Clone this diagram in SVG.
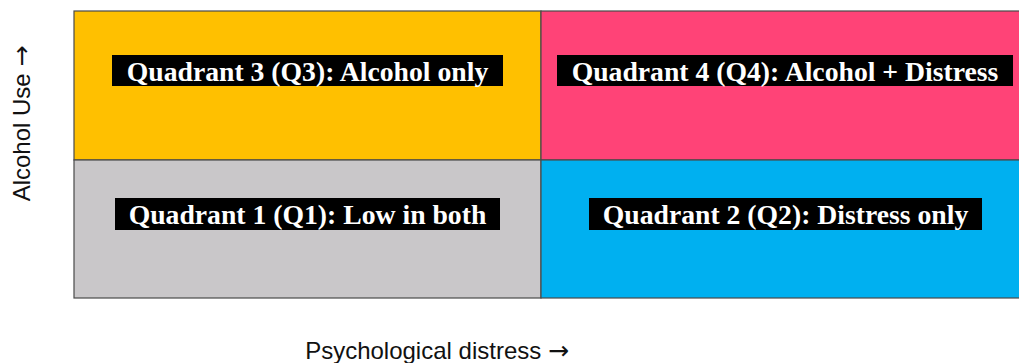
<svg xmlns="http://www.w3.org/2000/svg" width="1019" height="363" viewBox="0 0 1019 363">
<style>
.q{stroke:#4a4a4a;stroke-width:1.2}
.lb{fill:#000}
.lt{font-family:"Liberation Sans","Liberation Serif","Times New Roman",serif;font-family:"Liberation Serif","Times New Roman",serif;font-weight:bold;font-size:27.7px;fill:#fff;text-anchor:middle}
.ax{font-family:"Liberation Sans",Arial,sans-serif;font-size:24px;fill:#111;text-anchor:middle}
.ar{font-family:"DejaVu Sans",sans-serif;font-size:25px}
</style>
<rect width="1019" height="363" fill="#fff"/>
<g id="q3"><rect class="q" x="74" y="11" width="467" height="149" fill="#FFC000"/><rect class="lb" x="112" y="55" width="391" height="31"/><text class="lt" x="307.5" y="80.5">Quadrant 3 (Q3): Alcohol only</text></g>
<g id="q4"><rect class="q" x="541" y="11" width="480" height="149" fill="#FF4377"/><rect class="lb" x="557" y="55" width="456" height="31"/><text class="lt" x="785" y="80.5">Quadrant 4 (Q4): Alcohol + Distress</text></g>
<g id="q1"><rect class="q" x="74" y="160" width="467" height="138" fill="#C9C7C9"/><rect class="lb" x="115" y="198" width="385" height="32"/><text class="lt" x="307.5" y="224">Quadrant 1 (Q1): Low in both</text></g>
<g id="q2"><rect class="q" x="541" y="160" width="480" height="138" fill="#00B0F0"/><rect class="lb" x="589" y="198" width="393" height="32"/><text class="lt" x="785.5" y="224">Quadrant 2 (Q2): Distress only</text></g>
<g id="connectors"></g>
<g id="axes">
<text class="ax" transform="translate(30,123.5) rotate(-90)">Alcohol Use <tspan class="ar">→</tspan></text>
<text class="ax" x="437" y="359">Psychological distress <tspan class="ar">→</tspan></text>
</g>
</svg>
